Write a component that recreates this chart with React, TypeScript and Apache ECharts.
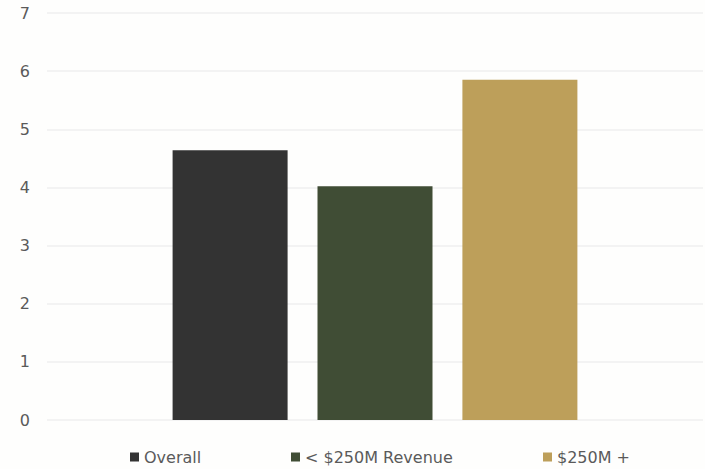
import React, { useEffect, useRef } from "react";
import * as echarts from "echarts";

const categories = [""];
const seriesNames = ["Overall", "< $250M Revenue", "$250M +"];
const seriesValues = [4.64, 4.02, 5.85];
const seriesColors = ["#333333", "#404d35", "#bd9f5a"];
const yTicks = { min: 0, max: 7, interval: 1 };
const legendLefts = [130, 291, 543];

export default function App() {
  const ref = useRef<HTMLDivElement>(null);
  useEffect(() => {
    if (!ref.current) return;
    const chart = echarts.init(ref.current, null, { renderer: "svg" });
    const font = "'DejaVu Sans', 'Open Sans', sans-serif";
    chart.setOption({
      animation: false,
      backgroundColor: "#fefefd",
      grid: { left: 47, right: 2, top: 13, bottom: 49, containLabel: false },
      legend: seriesNames.map((name, i) => ({
        left: legendLefts[i],
        top: 449,
        padding: 0,
        itemWidth: 9,
        itemHeight: 9,
        icon: "rect",
        textStyle: { color: "#5a5a5a", fontSize: 16, fontFamily: font, padding: [0, 0, 0, 0] },
        data: [name],
      })),
      xAxis: {
        type: "category",
        data: categories,
        axisLine: { show: false },
        axisTick: { show: false },
        axisLabel: { show: false },
      },
      yAxis: {
        type: "value",
        min: yTicks.min,
        max: yTicks.max,
        interval: yTicks.interval,
        axisLine: { show: false },
        axisTick: { show: false },
        axisLabel: { color: "#5a5a5a", fontSize: 16, fontFamily: font, margin: 17 },
        splitLine: { lineStyle: { color: "#efefef", width: 1.5 } },
      },
      series: seriesNames.map((name, i) => ({
        name,
        type: "bar",
        data: [seriesValues[i]],
        barWidth: 115,
        barGap: "26%",
        itemStyle: { color: seriesColors[i] },
      })),
    });
    return () => chart.dispose();
  }, []);
  return <div ref={ref} style={{ width: 705, height: 469, position: "absolute", left: 0, top: 0 }} />;
}
